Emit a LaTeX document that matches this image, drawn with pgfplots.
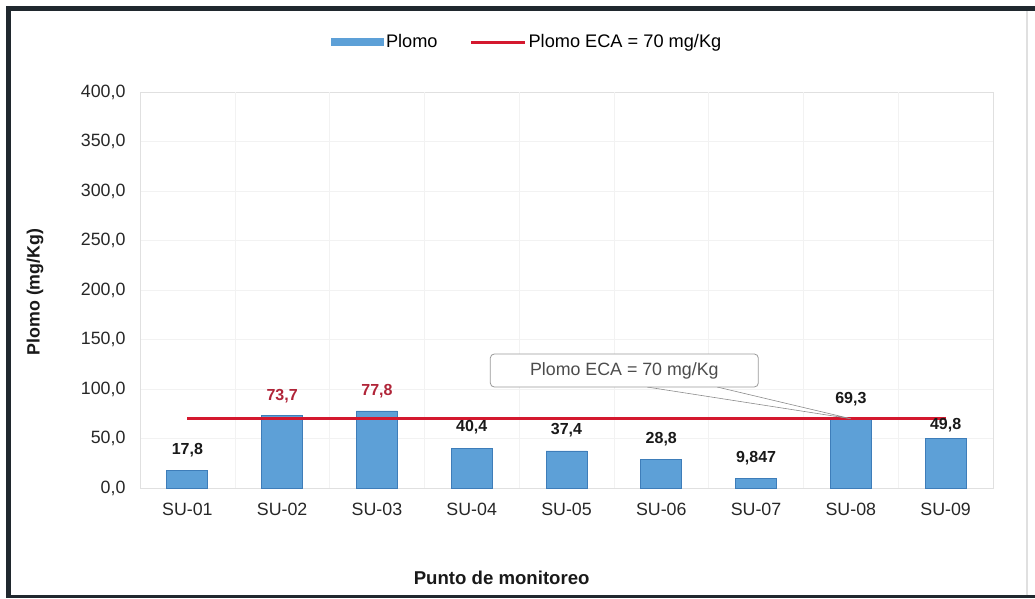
\documentclass[border=0pt]{standalone}
\usepackage{fontspec}
\setmainfont{Liberation Sans}
\usepackage{pgfplots}
\pgfplotsset{compat=1.18}
\definecolor{barfill}{RGB}{93,160,215}
\definecolor{baredge}{RGB}{62,125,185}
\definecolor{ecared}{RGB}{212,24,46}
\definecolor{labred}{RGB}{176,36,56}
\definecolor{framec}{RGB}{32,40,46}
\begin{document}
\begin{tikzpicture}[x=1pt,y=1pt]
\useasboundingbox (0pt,0pt) rectangle (1035pt,598pt);
\begin{axis}[
  at={(140pt,110pt)}, anchor=south west,
  scale only axis, width=853pt, height=396pt,
  xmin=-0.5, xmax=8.5, ymin=0, ymax=400,
  ytick={0,50,...,400},
  xtick={0,...,8},
  xticklabels={SU-01,SU-02,SU-03,SU-04,SU-05,SU-06,SU-07,SU-08,SU-09},
  extra x ticks={0.5,1.5,2.5,3.5,4.5,5.5,6.5,7.5},
  extra x tick labels={},
  extra x tick style={xmajorgrids=true},
  major tick length=0pt,
  axis line style={black!12},
  ymajorgrids, grid style={black!5},
  tick label style={font=\fontsize{17.8}{20}\selectfont, text=black!85},
  /pgf/number format/assume math mode=true,
  yticklabel style={xshift=-11pt, /pgf/number format/fixed, /pgf/number format/fixed zerofill,
    /pgf/number format/precision=1, /pgf/number format/use comma},
  xticklabel style={yshift=-12pt},
  xlabel={Punto de monitoreo},
  ylabel={Plomo (mg/Kg)},
  label style={text=black!90},
  xlabel style={font=\bfseries\fontsize{18.6}{21}\selectfont, at={(axis description cs:0.424,-0.227)}, anchor=center},
  ylabel style={font=\bfseries\fontsize{17.8}{21}\selectfont, at={(axis description cs:-0.123,0.495)}, anchor=center},
  legend style={at={(axis description cs:0.454,1.126)}, anchor=center, draw=none, fill=none,
    legend columns=2, font=\fontsize{18.2}{21}\selectfont,
    /tikz/every even column/.append style={column sep=30pt}},
]
\addplot[ybar, bar width=41pt, bar shift=0pt, fill=barfill, draw=baredge, line width=0.8pt,
  legend image code/.code={\fill[barfill] (0pt,-3.5pt) rectangle (52pt,3.5pt);}]
  coordinates {(0,17.8) (1,73.7) (2,77.8) (3,40.4) (4,37.4) (5,28.8) (6,9.847) (7,69.3) (8,49.8)};
\addlegendentry{Plomo}
\addplot[ecared, line width=3pt,
  legend image code/.code={\draw[ecared, line width=3pt] (0pt,0pt) -- (54pt,0pt);}]
  coordinates {(0,70) (8,70)};
\addlegendentry{Plomo ECA = 70 mg/Kg}
% labels
\addplot[forget plot, ybar, bar width=41pt, bar shift=0pt, draw=none, fill=none,
  point meta=explicit symbolic, nodes near coords,
  every node near coord/.style={font=\bfseries\fontsize{16}{18}\selectfont, text=black!90, yshift=10pt}]
  coordinates {(0,17.8) [17,8] (3,40.4) [40,4] (4,37.4) [37,4] (5,28.8) [28,8] (6,9.847) [9,847] (7,69.3) [69,3]};
\addplot[forget plot, ybar, bar width=41pt, bar shift=0pt, draw=none, fill=none,
  point meta=explicit symbolic, nodes near coords,
  every node near coord/.style={font=\bfseries\fontsize{16}{18}\selectfont, text=labred, yshift=9pt}]
  coordinates {(1,73.7) [73,7] (2,77.8) [77,8]};
\addplot[forget plot, ybar, bar width=41pt, bar shift=0pt, draw=none, fill=none,
  point meta=explicit symbolic, nodes near coords,
  every node near coord/.style={font=\bfseries\fontsize{16}{18}\selectfont, text=black!90, yshift=3pt}]
  coordinates {(8,49.8) [49,8]};
% callout
\draw[black!45, fill=white, line width=0.6pt] (axis cs:4.85,102) -- (axis cs:7,70) -- (axis cs:5.59,102);
\node[draw=black!40, fill=white, rounded corners=4pt, minimum width=268pt, minimum height=33pt,
  font=\fontsize{17.8}{20}\selectfont, text=black!70, line width=0.8pt] at (axis cs:4.61,118.7) {Plomo ECA = 70 mg/Kg};
\end{axis}
\draw[framec, line width=5pt] (1035pt,589.5pt) -- (8.5pt,589.5pt) -- (8.5pt,0pt);
\draw[framec, line width=3pt] (6pt,1.5pt) -- (1035pt,1.5pt);
\draw[black!12, line width=1.5pt] (1027pt,3pt) -- (1027pt,587pt);
\end{tikzpicture}
\end{document}
